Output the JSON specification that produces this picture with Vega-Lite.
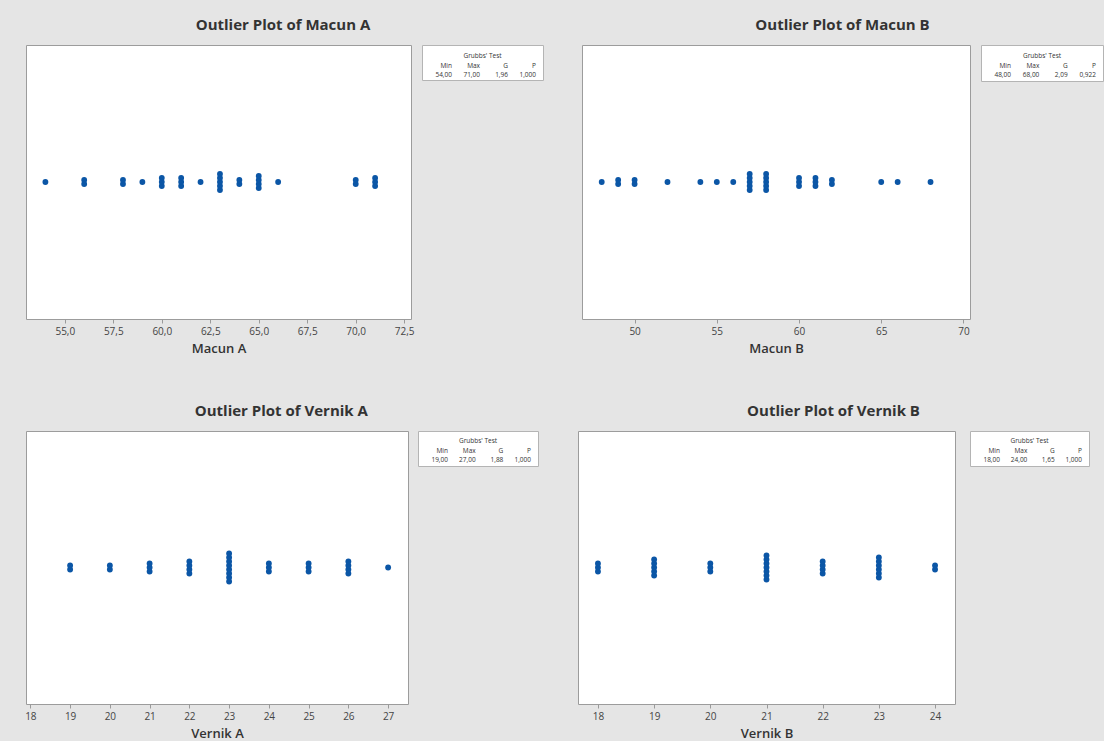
{
  "$schema": "https://vega.github.io/schema/vega-lite/v6.json",
  "background": "#e5e5e5",
  "padding": {"left": 22, "top": 17, "right": 0, "bottom": 0},
  "datasets": {
    "pts": [
      {"panel": "A", "value": 54},
      {"panel": "A", "value": 56}, {"panel": "A", "value": 56},
      {"panel": "A", "value": 58}, {"panel": "A", "value": 58},
      {"panel": "A", "value": 59},
      {"panel": "A", "value": 60}, {"panel": "A", "value": 60}, {"panel": "A", "value": 60},
      {"panel": "A", "value": 61}, {"panel": "A", "value": 61}, {"panel": "A", "value": 61},
      {"panel": "A", "value": 62},
      {"panel": "A", "value": 63}, {"panel": "A", "value": 63}, {"panel": "A", "value": 63}, {"panel": "A", "value": 63}, {"panel": "A", "value": 63},
      {"panel": "A", "value": 64}, {"panel": "A", "value": 64},
      {"panel": "A", "value": 65}, {"panel": "A", "value": 65}, {"panel": "A", "value": 65}, {"panel": "A", "value": 65},
      {"panel": "A", "value": 66},
      {"panel": "A", "value": 70}, {"panel": "A", "value": 70},
      {"panel": "A", "value": 71}, {"panel": "A", "value": 71}, {"panel": "A", "value": 71},
      {"panel": "B", "value": 48},
      {"panel": "B", "value": 49}, {"panel": "B", "value": 49},
      {"panel": "B", "value": 50}, {"panel": "B", "value": 50},
      {"panel": "B", "value": 52},
      {"panel": "B", "value": 54},
      {"panel": "B", "value": 55},
      {"panel": "B", "value": 56},
      {"panel": "B", "value": 57}, {"panel": "B", "value": 57}, {"panel": "B", "value": 57}, {"panel": "B", "value": 57}, {"panel": "B", "value": 57},
      {"panel": "B", "value": 58}, {"panel": "B", "value": 58}, {"panel": "B", "value": 58}, {"panel": "B", "value": 58}, {"panel": "B", "value": 58},
      {"panel": "B", "value": 60}, {"panel": "B", "value": 60}, {"panel": "B", "value": 60},
      {"panel": "B", "value": 61}, {"panel": "B", "value": 61}, {"panel": "B", "value": 61},
      {"panel": "B", "value": 62}, {"panel": "B", "value": 62},
      {"panel": "B", "value": 65},
      {"panel": "B", "value": 66},
      {"panel": "B", "value": 68},
      {"panel": "C", "value": 19}, {"panel": "C", "value": 19},
      {"panel": "C", "value": 20}, {"panel": "C", "value": 20},
      {"panel": "C", "value": 21}, {"panel": "C", "value": 21}, {"panel": "C", "value": 21},
      {"panel": "C", "value": 22}, {"panel": "C", "value": 22}, {"panel": "C", "value": 22}, {"panel": "C", "value": 22},
      {"panel": "C", "value": 23}, {"panel": "C", "value": 23}, {"panel": "C", "value": 23}, {"panel": "C", "value": 23},
      {"panel": "C", "value": 23}, {"panel": "C", "value": 23}, {"panel": "C", "value": 23}, {"panel": "C", "value": 23},
      {"panel": "C", "value": 24}, {"panel": "C", "value": 24}, {"panel": "C", "value": 24},
      {"panel": "C", "value": 25}, {"panel": "C", "value": 25}, {"panel": "C", "value": 25},
      {"panel": "C", "value": 26}, {"panel": "C", "value": 26}, {"panel": "C", "value": 26}, {"panel": "C", "value": 26},
      {"panel": "C", "value": 27},
      {"panel": "D", "value": 18}, {"panel": "D", "value": 18}, {"panel": "D", "value": 18},
      {"panel": "D", "value": 19}, {"panel": "D", "value": 19}, {"panel": "D", "value": 19}, {"panel": "D", "value": 19}, {"panel": "D", "value": 19},
      {"panel": "D", "value": 20}, {"panel": "D", "value": 20}, {"panel": "D", "value": 20},
      {"panel": "D", "value": 21}, {"panel": "D", "value": 21}, {"panel": "D", "value": 21}, {"panel": "D", "value": 21},
      {"panel": "D", "value": 21}, {"panel": "D", "value": 21}, {"panel": "D", "value": 21},
      {"panel": "D", "value": 22}, {"panel": "D", "value": 22}, {"panel": "D", "value": 22}, {"panel": "D", "value": 22},
      {"panel": "D", "value": 23}, {"panel": "D", "value": 23}, {"panel": "D", "value": 23},
      {"panel": "D", "value": 23}, {"panel": "D", "value": 23}, {"panel": "D", "value": 23},
      {"panel": "D", "value": 24}, {"panel": "D", "value": 24}
    ],
    "stats": [
      {"panel": "A", "row": "title", "col": "", "label": "Grubbs' Test"},
      {"panel": "A", "row": "head", "col": "Min", "label": "Min"},
      {"panel": "A", "row": "head", "col": "Max", "label": "Max"},
      {"panel": "A", "row": "head", "col": "G", "label": "G"},
      {"panel": "A", "row": "head", "col": "P", "label": "P"},
      {"panel": "A", "row": "val", "col": "Min", "label": "54,00"},
      {"panel": "A", "row": "val", "col": "Max", "label": "71,00"},
      {"panel": "A", "row": "val", "col": "G", "label": "1,96"},
      {"panel": "A", "row": "val", "col": "P", "label": "1,000"},
      {"panel": "B", "row": "title", "col": "", "label": "Grubbs' Test"},
      {"panel": "B", "row": "head", "col": "Min", "label": "Min"},
      {"panel": "B", "row": "head", "col": "Max", "label": "Max"},
      {"panel": "B", "row": "head", "col": "G", "label": "G"},
      {"panel": "B", "row": "head", "col": "P", "label": "P"},
      {"panel": "B", "row": "val", "col": "Min", "label": "48,00"},
      {"panel": "B", "row": "val", "col": "Max", "label": "68,00"},
      {"panel": "B", "row": "val", "col": "G", "label": "2,09"},
      {"panel": "B", "row": "val", "col": "P", "label": "0,922"},
      {"panel": "C", "row": "title", "col": "", "label": "Grubbs' Test"},
      {"panel": "C", "row": "head", "col": "Min", "label": "Min"},
      {"panel": "C", "row": "head", "col": "Max", "label": "Max"},
      {"panel": "C", "row": "head", "col": "G", "label": "G"},
      {"panel": "C", "row": "head", "col": "P", "label": "P"},
      {"panel": "C", "row": "val", "col": "Min", "label": "19,00"},
      {"panel": "C", "row": "val", "col": "Max", "label": "27,00"},
      {"panel": "C", "row": "val", "col": "G", "label": "1,88"},
      {"panel": "C", "row": "val", "col": "P", "label": "1,000"},
      {"panel": "D", "row": "title", "col": "", "label": "Grubbs' Test"},
      {"panel": "D", "row": "head", "col": "Min", "label": "Min"},
      {"panel": "D", "row": "head", "col": "Max", "label": "Max"},
      {"panel": "D", "row": "head", "col": "G", "label": "G"},
      {"panel": "D", "row": "head", "col": "P", "label": "P"},
      {"panel": "D", "row": "val", "col": "Min", "label": "18,00"},
      {"panel": "D", "row": "val", "col": "Max", "label": "24,00"},
      {"panel": "D", "row": "val", "col": "G", "label": "1,65"},
      {"panel": "D", "row": "val", "col": "P", "label": "1,000"}
    ]
  },
  "spacing": 47,
  "align": "none",
  "vconcat": [
    {
      "spacing": 37,
      "align": "none",
      "hconcat": [
        {
          "title": "Outlier Plot of Macun A",
          "spacing": 6,
          "bounds": "full",
          "align": "none",
          "hconcat": [
            {
              "width": 385, "height": 274,
              "data": {"name": "pts"},
              "transform": [
                {"filter": "datum.panel == 'A'"},
                {"window": [{"op": "count", "as": "one"}], "frame": [0, 0]},
                {"stack": "one", "groupby": ["value"], "offset": "center", "as": ["s0", "s1"]}
              ],
              "mark": {"type": "circle", "size": 34, "color": "#0b56a6", "opacity": 1, "yOffset": -2},
              "encoding": {
                "x": {"field": "value", "type": "quantitative",
                  "scale": {"domain": [53.0, 72.85], "nice": false, "zero": false},
                  "axis": {"values": [55, 57.5, 60, 62.5, 65, 67.5, 70, 72.5], "labelExpr": "replace(format(datum.value, '.1f'), '.', ',')", "title": "Macun A"}},
                "y": {"field": "s0", "type": "quantitative",
                  "scale": {"domain": [-31.75, 36.75], "nice": false, "zero": false},
                  "axis": {"labels": false, "ticks": false, "domain": false, "grid": false, "title": null, "minExtent": 3, "maxExtent": 3}}
              }
            },
            {
              "width": 121, "height": 35,
              "view": {"stroke": "#b4b4b4"},
              "data": {"name": "stats"},
              "transform": [{"filter": "datum.panel == 'A'"}],
              "encoding": {"y": {"field": "row", "type": "ordinal", "scale": {"type": "point", "padding": 0, "domain": ["title", "head", "val"], "range": [11, 30]}, "axis": null}},
              "layer": [
                {"transform": [{"filter": "datum.row == 'title'"}], "mark": {"type": "text", "fontSize": 6.5, "color": "#333"}, "encoding": {"text": {"field": "label"}}},
                {"transform": [{"filter": "datum.row != 'title'"}], "mark": {"type": "text", "fontSize": 6.5, "align": "right", "color": "#333"},
                  "encoding": {"x": {"field": "col", "type": "ordinal", "scale": {"type": "point", "padding": 0, "domain": ["Min", "Max", "G", "P"], "range": [30, 114]}, "axis": null}, "text": {"field": "label"}}}
              ]
            }
          ]
        },
        {
          "title": "Outlier Plot of Macun B",
          "spacing": 11,
          "bounds": "flush",
          "align": "none",
          "hconcat": [
            {
              "width": 388, "height": 274,
              "data": {"name": "pts"},
              "transform": [
                {"filter": "datum.panel == 'B'"},
                {"window": [{"op": "count", "as": "one"}], "frame": [0, 0]},
                {"stack": "one", "groupby": ["value"], "offset": "center", "as": ["s0", "s1"]}
              ],
              "mark": {"type": "circle", "size": 34, "color": "#0b56a6", "opacity": 1, "yOffset": -2},
              "encoding": {
                "x": {"field": "value", "type": "quantitative",
                  "scale": {"domain": [46.8, 70.4], "nice": false, "zero": false},
                  "axis": {"values": [50, 55, 60, 65, 70], "format": "d", "title": "Macun B"}},
                "y": {"field": "s0", "type": "quantitative",
                  "scale": {"domain": [-31.75, 36.75], "nice": false, "zero": false}, "axis": null}
              }
            },
            {
              "width": 122, "height": 36,
              "view": {"stroke": "#b4b4b4"},
              "data": {"name": "stats"},
              "transform": [{"filter": "datum.panel == 'B'"}],
              "encoding": {"y": {"field": "row", "type": "ordinal", "scale": {"type": "point", "padding": 0, "domain": ["title", "head", "val"], "range": [11, 30]}, "axis": null}},
              "layer": [
                {"transform": [{"filter": "datum.row == 'title'"}], "mark": {"type": "text", "fontSize": 6.5, "color": "#333"}, "encoding": {"text": {"field": "label"}}},
                {"transform": [{"filter": "datum.row != 'title'"}], "mark": {"type": "text", "fontSize": 6.5, "align": "right", "color": "#333"},
                  "encoding": {"x": {"field": "col", "type": "ordinal", "scale": {"type": "point", "padding": 0, "domain": ["Min", "Max", "G", "P"], "range": [30, 115]}, "axis": null}, "text": {"field": "label"}}}
              ]
            }
          ]
        }
      ]
    },
    {
      "spacing": 38,
      "align": "none",
      "hconcat": [
        {
          "title": "Outlier Plot of Vernik A",
          "spacing": 10,
          "bounds": "flush",
          "align": "none",
          "hconcat": [
            {
              "width": 382, "height": 273,
              "data": {"name": "pts"},
              "transform": [
                {"filter": "datum.panel == 'C'"},
                {"window": [{"op": "count", "as": "one"}], "frame": [0, 0]},
                {"stack": "one", "groupby": ["value"], "offset": "center", "as": ["s0", "s1"]}
              ],
              "mark": {"type": "circle", "size": 34, "color": "#0b56a6", "opacity": 1, "yOffset": -2},
              "encoding": {
                "x": {"field": "value", "type": "quantitative",
                  "scale": {"domain": [17.89, 27.5], "nice": false, "zero": false},
                  "axis": {"values": [18, 19, 20, 21, 22, 23, 24, 25, 26, 27], "format": "d", "title": "Vernik A"}},
                "y": {"field": "s0", "type": "quantitative",
                  "scale": {"domain": [-30.1, 38.1], "nice": false, "zero": false}, "axis": null}
              }
            },
            {
              "width": 120, "height": 35,
              "view": {"stroke": "#b4b4b4"},
              "data": {"name": "stats"},
              "transform": [{"filter": "datum.panel == 'C'"}],
              "encoding": {"y": {"field": "row", "type": "ordinal", "scale": {"type": "point", "padding": 0, "domain": ["title", "head", "val"], "range": [10, 29]}, "axis": null}},
              "layer": [
                {"transform": [{"filter": "datum.row == 'title'"}], "mark": {"type": "text", "fontSize": 6.5, "color": "#333"}, "encoding": {"text": {"field": "label"}}},
                {"transform": [{"filter": "datum.row != 'title'"}], "mark": {"type": "text", "fontSize": 6.5, "align": "right", "color": "#333"},
                  "encoding": {"x": {"field": "col", "type": "ordinal", "scale": {"type": "point", "padding": 0, "domain": ["Min", "Max", "G", "P"], "range": [30, 113]}, "axis": null}, "text": {"field": "label"}}}
              ]
            }
          ]
        },
        {
          "title": "Outlier Plot of Vernik B",
          "spacing": 15,
          "bounds": "flush",
          "align": "none",
          "hconcat": [
            {
              "width": 377, "height": 273,
              "data": {"name": "pts"},
              "transform": [
                {"filter": "datum.panel == 'D'"},
                {"window": [{"op": "count", "as": "one"}], "frame": [0, 0]},
                {"stack": "one", "groupby": ["value"], "offset": "center", "as": ["s0", "s1"]}
              ],
              "mark": {"type": "circle", "size": 34, "color": "#0b56a6", "opacity": 1, "yOffset": -2},
              "encoding": {
                "x": {"field": "value", "type": "quantitative",
                  "scale": {"domain": [17.645, 24.355], "nice": false, "zero": false},
                  "axis": {"values": [18, 19, 20, 21, 22, 23, 24], "format": "d", "title": "Vernik B"}},
                "y": {"field": "s0", "type": "quantitative",
                  "scale": {"domain": [-30.6, 37.6], "nice": false, "zero": false}, "axis": null}
              }
            },
            {
              "width": 119, "height": 35,
              "view": {"stroke": "#b4b4b4"},
              "data": {"name": "stats"},
              "transform": [{"filter": "datum.panel == 'D'"}],
              "encoding": {"y": {"field": "row", "type": "ordinal", "scale": {"type": "point", "padding": 0, "domain": ["title", "head", "val"], "range": [10, 29]}, "axis": null}},
              "layer": [
                {"transform": [{"filter": "datum.row == 'title'"}], "mark": {"type": "text", "fontSize": 6.5, "color": "#333"}, "encoding": {"text": {"field": "label"}}},
                {"transform": [{"filter": "datum.row != 'title'"}], "mark": {"type": "text", "fontSize": 6.5, "align": "right", "color": "#333"},
                  "encoding": {"x": {"field": "col", "type": "ordinal", "scale": {"type": "point", "padding": 0, "domain": ["Min", "Max", "G", "P"], "range": [30, 112]}, "axis": null}, "text": {"field": "label"}}}
              ]
            }
          ]
        }
      ]
    }
  ],
  "config": {
    "font": "Open Sans",
    "view": {"stroke": "#9c9c9c", "fill": "white"},
    "title": {"font": "Open Sans", "fontSize": 15, "fontWeight": "bold", "color": "#333333", "anchor": "middle", "offset": 12},
    "axis": {
      "labelFont": "Open Sans", "labelFontSize": 10, "labelColor": "#444444", "labelFlush": false, "labelOverlap": false, "labelPadding": 3,
      "titleFont": "Open Sans", "titleFontSize": 13, "titleFontWeight": 600, "titleColor": "#333333", "titlePadding": 6,
      "tickColor": "#9a9a9a", "tickSize": 4, "domain": false, "grid": false
    },
    "text": {"font": "Open Sans"}
  }
}
